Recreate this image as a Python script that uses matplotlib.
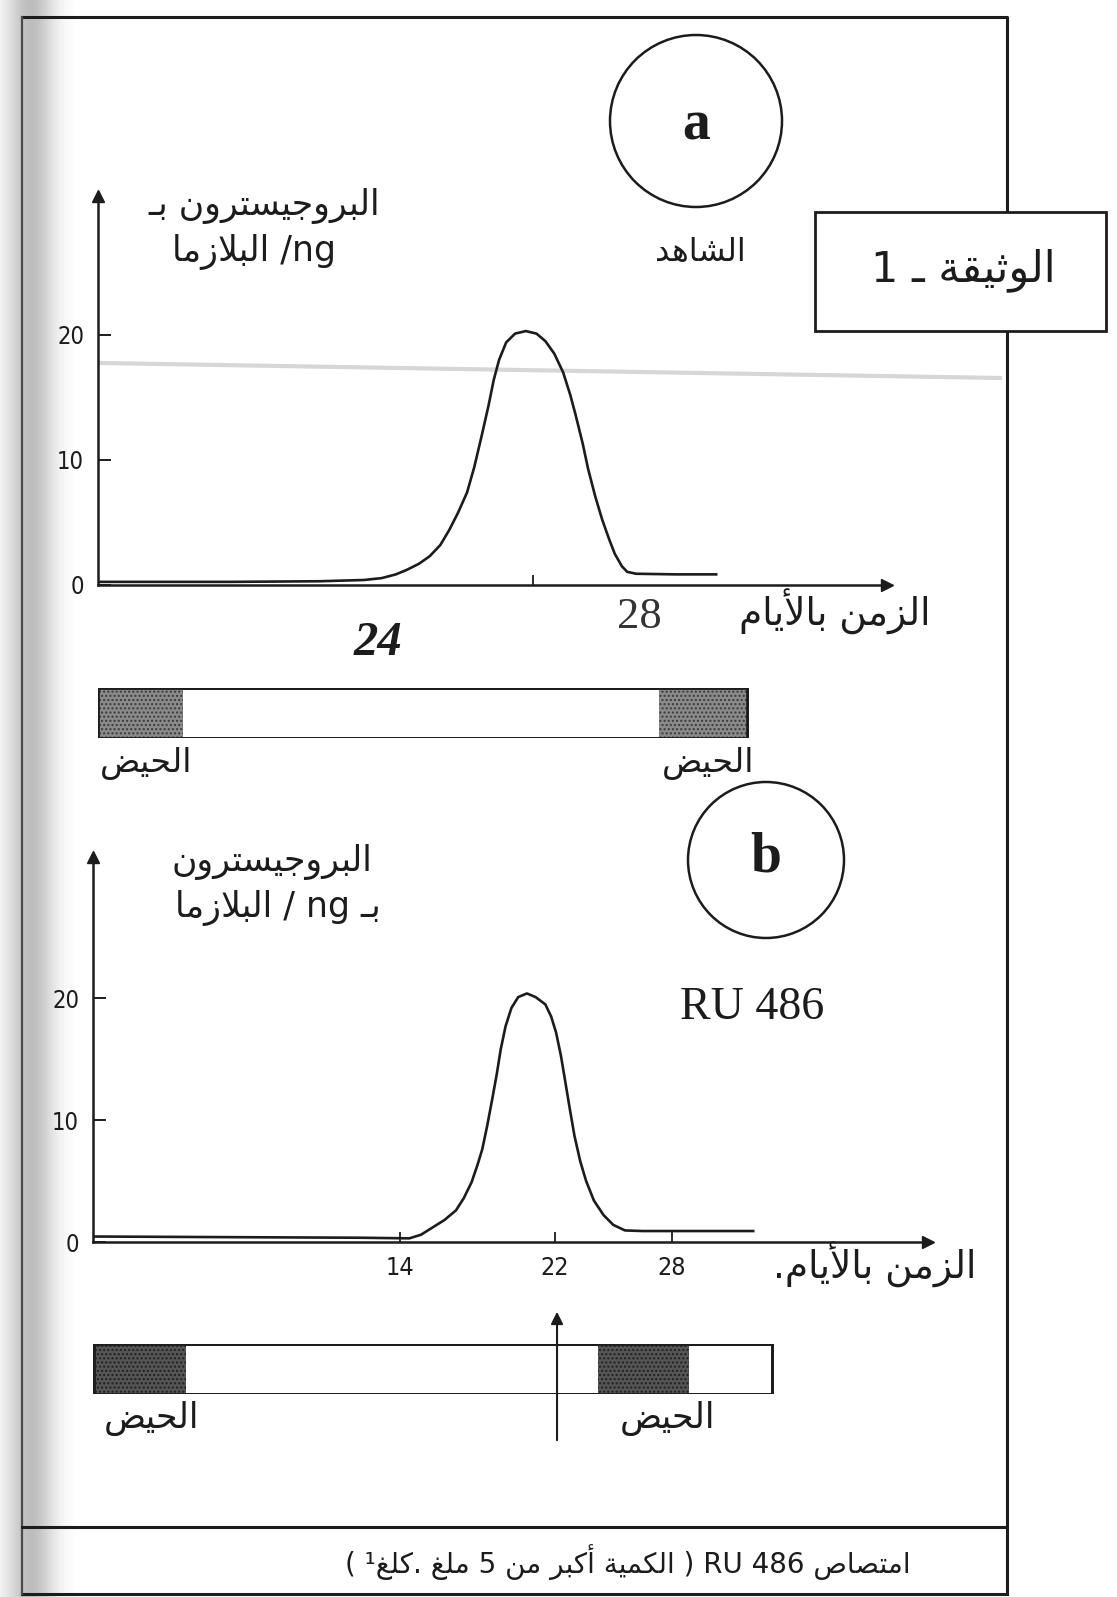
import re
import numpy as np
import matplotlib
matplotlib.use("Agg")
import matplotlib.pyplot as plt
from matplotlib.patches import Rectangle, Circle

# ---------------- data ----------------
# panel a (control): progesterone (ng/ml plasma) vs day of cycle
days_a = [-2.4, 5.0, 10.0, 12.5, 13.5, 14.3, 14.9, 15.6, 16.2, 16.8, 17.3, 17.8,
          18.3, 18.7, 19.1, 19.5, 19.8, 20.1, 20.5, 21.0, 21.6, 22.2, 22.7, 23.2,
          23.7, 24.1, 24.4, 24.8, 25.1, 25.5, 25.9, 26.3, 26.6, 27.0, 27.3, 27.8,
          30.0, 32.3]
prog_a = [0.25, 0.25, 0.3, 0.4, 0.55, 0.85, 1.2, 1.7, 2.3, 3.2, 4.4, 5.8,
          7.4, 9.4, 11.8, 14.3, 16.4, 18.0, 19.4, 20.1, 20.3, 20.1, 19.5, 18.5,
          17.0, 15.2, 13.6, 11.3, 9.3, 7.1, 5.2, 3.6, 2.5, 1.5, 1.05, 0.9,
          0.85, 0.85]
# panel b (RU 486)
days_b = [-1.75, 5.0, 12.0, 14.5, 15.1, 15.7, 16.3, 16.9, 17.3, 17.7, 18.0, 18.25,
          18.5, 18.75, 19.0, 19.2, 19.45, 19.75, 20.1, 20.55, 21.0, 21.5, 21.8, 22.05,
          22.3, 22.5, 22.75, 23.0, 23.3, 23.6, 24.0, 24.5, 25.0, 25.6, 26.5, 29.0,
          32.2]
prog_b = [0.45, 0.4, 0.35, 0.3, 0.6, 1.2, 1.8, 2.6, 3.6, 4.9, 6.3, 7.6,
          9.5, 11.6, 13.8, 15.8, 17.7, 19.2, 20.1, 20.4, 20.1, 19.5, 18.5, 17.2,
          15.3, 13.4, 11.0, 8.7, 6.6, 5.0, 3.4, 2.2, 1.4, 0.95, 0.9, 0.9,
          0.9]

yticks = [0, 10, 20]
xticks_b = [14, 22, 28]
xtick_labels_b = ["14", "22", "28"]
xtick_a = 28
xtick_label_a = "28"
hand_label_a = ("24", 13.3)      # handwritten correction on panel a
xminor_a = [22]

# menstruation periods (start day, duration) and cycle bar extent
cycle_a = (-2.44, 36.5)
menses_a = [(-2.44, 4.8), (29.1, 5.0)]
cycle_b = (-1.73, 34.9)
menses_b = [(-1.73, 4.73), (24.2, 4.7)]
ru486_day = 22.1

# ---------------- Arabic shaping helpers ----------------
FORMS = {
    '\u0621': ('\uFE80',),
    '\u0623': ('\uFE83', '\uFE84'),
    '\u0627': ('\uFE8D', '\uFE8E'),
    '\u0628': ('\uFE8F', '\uFE90', '\uFE91', '\uFE92'),
    '\u0629': ('\uFE93', '\uFE94'),
    '\u062A': ('\uFE95', '\uFE96', '\uFE97', '\uFE98'),
    '\u062B': ('\uFE99', '\uFE9A', '\uFE9B', '\uFE9C'),
    '\u062C': ('\uFE9D', '\uFE9E', '\uFE9F', '\uFEA0'),
    '\u062D': ('\uFEA1', '\uFEA2', '\uFEA3', '\uFEA4'),
    '\u062F': ('\uFEA9', '\uFEAA'),
    '\u0631': ('\uFEAD', '\uFEAE'),
    '\u0632': ('\uFEAF', '\uFEB0'),
    '\u0633': ('\uFEB1', '\uFEB2', '\uFEB3', '\uFEB4'),
    '\u0634': ('\uFEB5', '\uFEB6', '\uFEB7', '\uFEB8'),
    '\u0635': ('\uFEB9', '\uFEBA', '\uFEBB', '\uFEBC'),
    '\u0636': ('\uFEBD', '\uFEBE', '\uFEBF', '\uFEC0'),
    '\u063A': ('\uFECD', '\uFECE', '\uFECF', '\uFED0'),
    '\u0642': ('\uFED5', '\uFED6', '\uFED7', '\uFED8'),
    '\u0643': ('\uFED9', '\uFEDA', '\uFEDB', '\uFEDC'),
    '\u0644': ('\uFEDD', '\uFEDE', '\uFEDF', '\uFEE0'),
    '\u0645': ('\uFEE1', '\uFEE2', '\uFEE3', '\uFEE4'),
    '\u0646': ('\uFEE5', '\uFEE6', '\uFEE7', '\uFEE8'),
    '\u0647': ('\uFEE9', '\uFEEA', '\uFEEB', '\uFEEC'),
    '\u0648': ('\uFEED', '\uFEEE'),
    '\u064A': ('\uFEF1', '\uFEF2', '\uFEF3', '\uFEF4'),
    '\u0640': ('\u0640', '\u0640', '\u0640', '\u0640'),
    'LA': ('\uFEFB', '\uFEFC'),
    'LAH': ('\uFEF7', '\uFEF8'),
}
MIRROR = {'(': ')', ')': '('}


def shape(s):
    toks, i = [], 0
    while i < len(s):
        c = s[i]
        if c == '\u0644' and i + 1 < len(s) and s[i + 1] in ('\u0627', '\u0623'):
            toks.append('LA' if s[i + 1] == '\u0627' else 'LAH')
            i += 2
        else:
            toks.append(c)
            i += 1
    out = []
    for k, t in enumerate(toks):
        f = FORMS.get(t)
        if f is None:
            out.append(MIRROR.get(t, t))
            continue
        prev = toks[k - 1] if k > 0 else None
        nxt = toks[k + 1] if k + 1 < len(toks) else None
        jp = prev in FORMS and len(FORMS[prev]) == 4
        jn = len(f) == 4 and nxt in FORMS and len(FORMS[nxt]) >= 2
        if jp and jn:
            out.append(f[3])
        elif jp:
            out.append(f[1])
        elif jn:
            out.append(f[2])
        else:
            out.append(f[0])
    return ''.join(out)


def ar(s):
    runs = re.findall(r'[A-Za-z0-9]+(?: [A-Za-z0-9]+)*|[^A-Za-z0-9]+', s)
    parts = []
    for r in reversed(runs):
        if re.match(r'[A-Za-z0-9]', r):
            parts.append(r)
        else:
            parts.append(shape(r)[::-1])
    return ''.join(parts)


# ---------------- figure ----------------
W, H = 1117, 1597
fig = plt.figure(figsize=(W / 100, H / 100), dpi=100)
fig.patch.set_facecolor('white')
INK = '#1c1c1c'
AR = ['DejaVu Sans']
SANS = ['DejaVu Sans']
SERIF = ['Liberation Serif', 'DejaVu Serif']


def rect(x0, y0, x1, y1):
    return [x0 / W, 1 - y1 / H, (x1 - x0) / W, (y1 - y0) / H]


bg = fig.add_axes([0, 0, 1, 1])
bg.set_xlim(0, W)
bg.set_ylim(H, 0)
bg.axis('off')

# scanned left edge shading
xs = np.arange(80)
shade = 1 - 0.26 * np.exp(-((xs - 30) / 24.0) ** 2)
bg.imshow(np.tile(shade, (8, 1)), cmap='gray', vmin=0, vmax=1, extent=[0, 80, H, 0],
          aspect='auto', zorder=0)

# frame
bg.plot([22, 1007, 1007], [17, 17, 1594], color=INK, lw=2.2, zorder=2)
bg.plot([1007, 22], [1594, 1594], color=INK, lw=2.2, zorder=2)
bg.plot([22, 22], [17, 1594], color='#4a4a4a', lw=1.6, zorder=2)
bg.plot([22, 1007], [1527, 1527], color=INK, lw=2.2, zorder=2)
# faint scan line
bg.plot([100, 1000], [363, 378], color='#d6d6d6', lw=3, zorder=1)

# document box
bg.add_patch(Rectangle((815, 212), 291, 119, facecolor='white', edgecolor=INK, lw=2, zorder=5))
bg.text(963, 270, ar('الوثيقة ـ 1'), fontsize=31, family=AR, ha='center', va='center',
        color=INK, zorder=6)

# circles
bg.add_patch(Circle((696, 121), 86, fill=False, edgecolor=INK, lw=1.8, zorder=3))
bg.text(696, 126, 'a', fontsize=40, family=SERIF, weight='bold', ha='center', va='center', color=INK)
bg.add_patch(Circle((766, 860), 78, fill=False, edgecolor=INK, lw=1.8, zorder=3))
bg.text(766, 858, 'b', fontsize=40, family=SERIF, weight='bold', ha='center', va='center', color=INK)

# labels panel a
bg.text(264, 206, ar('البروجيسترون بـ'), fontsize=25, family=AR, ha='center', va='center', color=INK)
bg.text(254, 252, ar('ng/ البلازما'), fontsize=25, family=AR, ha='center', va='center', color=INK)
bg.text(700, 252, ar('الشاهد'), fontsize=23, family=AR, ha='center', va='center', color=INK)
bg.text(835, 612, ar('الزمن بالأيام'), fontsize=27, family=AR, ha='center', va='center', color=INK)
bg.text(146, 763, ar('الحيض'), fontsize=24, family=AR, ha='center', va='center', color=INK)
bg.text(708, 763, ar('الحيض'), fontsize=24, family=AR, ha='center', va='center', color=INK)

# labels panel b
bg.text(272, 862, ar('البروجيسترون'), fontsize=25, family=AR, ha='center', va='center', color=INK)
bg.text(278, 908, ar('بـ ng / البلازما'), fontsize=25, family=AR, ha='center', va='center', color=INK)
bg.text(752, 1008, 'RU 486', fontsize=33, family=SERIF, ha='center', va='center', color=INK)
bg.text(875, 1265, ar('الزمن بالأيام.'), fontsize=27, family=AR, ha='center', va='center', color=INK)
bg.text(152, 1418, ar('الحيض'), fontsize=25, family=AR, ha='center', va='center', color=INK)
bg.text(668, 1418, ar('الحيض'), fontsize=25, family=AR, ha='center', va='center', color=INK)

# caption
bg.text(628, 1562, ar('امتصاص RU 486 ( الكمية أكبر من 5 ملغ .كلغ\u00b9 )'), fontsize=20,
        family=AR, ha='center', va='center', color=INK)


def style_axes(ax, xlim, ylim):
    ax.set_xlim(*xlim)
    ax.set_ylim(*ylim)
    ax.patch.set_alpha(0)
    for s in ('top', 'right'):
        ax.spines[s].set_visible(False)
    for s in ('left', 'bottom'):
        ax.spines[s].set_linewidth(1.8)
        ax.spines[s].set_color(INK)
    ax.plot(1, 0, '>', color=INK, ms=9, transform=ax.transAxes, clip_on=False)
    ax.plot(0, 1, '^', color=INK, ms=9, transform=ax.transAxes, clip_on=False)
    ax.set_yticks(yticks)
    ax.set_yticklabels([str(v) for v in yticks], fontfamily=SANS, fontstretch='condensed',
                       fontsize=17, color=INK)
    ax.tick_params(axis='y', direction='in', length=9, width=1.4, pad=10, colors=INK)


# panel a plot
axa = fig.add_axes(rect(98, 196, 887, 585))
style_axes(axa, (-2.44, 41.9), (0, 31.1))
axa.plot(days_a, prog_a, color=INK, lw=1.9, solid_joinstyle='round')
axa.set_xticks([xtick_a])
axa.set_xticklabels([xtick_label_a], fontfamily=SERIF, fontsize=32, color='#333333')
axa.set_xticks(xminor_a, minor=True)
axa.tick_params(axis='x', which='major', length=0, pad=9)
axa.tick_params(axis='x', which='minor', direction='in', length=7, width=1.3, colors=INK)
axa.text(hand_label_a[1], -0.15, hand_label_a[0], transform=axa.get_xaxis_transform(),
         fontsize=35, family=SERIF, style='italic', weight='bold', ha='center', va='center',
         color=INK)

# panel a cycle bar
bara = fig.add_axes(rect(98, 688, 887, 738), sharex=axa)
bara.axis('off')
bara.set_ylim(0, 1)
bara.barh(0.5, cycle_a[1], left=cycle_a[0], height=1, color='white', edgecolor=INK, lw=2)
for st, du in menses_a:
    bara.barh(0.5, du, left=st, height=1, color='#8a8a8a', edgecolor='#3a3a3a', hatch='....', lw=0)
bara.barh(0.5, cycle_a[1], left=cycle_a[0], height=1, fill=False, edgecolor=INK, lw=2)

# panel b plot
axb = fig.add_axes(rect(93, 857, 928, 1242))
style_axes(axb, (-1.79, 41.2), (0, 31.6))
axb.plot(days_b, prog_b, color=INK, lw=1.9, solid_joinstyle='round')
axb.set_xticks(xticks_b)
axb.set_xticklabels(xtick_labels_b, fontfamily=SANS, fontstretch='condensed', fontsize=18,
                    color=INK)
axb.tick_params(axis='x', direction='in', length=7, width=1.3, pad=10, colors=INK)

# panel b cycle bar
barb = fig.add_axes(rect(93, 1344, 928, 1394), sharex=axb)
barb.axis('off')
barb.set_ylim(0, 1)
barb.barh(0.5, cycle_b[1], left=cycle_b[0], height=1, color='white', edgecolor=INK, lw=2)
for st, du in menses_b:
    barb.barh(0.5, du, left=st, height=1, color='#555555', edgecolor='#202020', hatch='....', lw=0)
barb.barh(0.5, cycle_b[1], left=cycle_b[0], height=1, fill=False, edgecolor=INK, lw=2)
barb.annotate('', xy=(ru486_day, 1.7), xytext=(ru486_day, -0.98),
              xycoords=('data', 'axes fraction'), textcoords=('data', 'axes fraction'),
              arrowprops=dict(arrowstyle='-|>', color=INK, lw=1.5, mutation_scale=18),
              annotation_clip=False)

fig.savefig('out.png', dpi=100, facecolor='white')
